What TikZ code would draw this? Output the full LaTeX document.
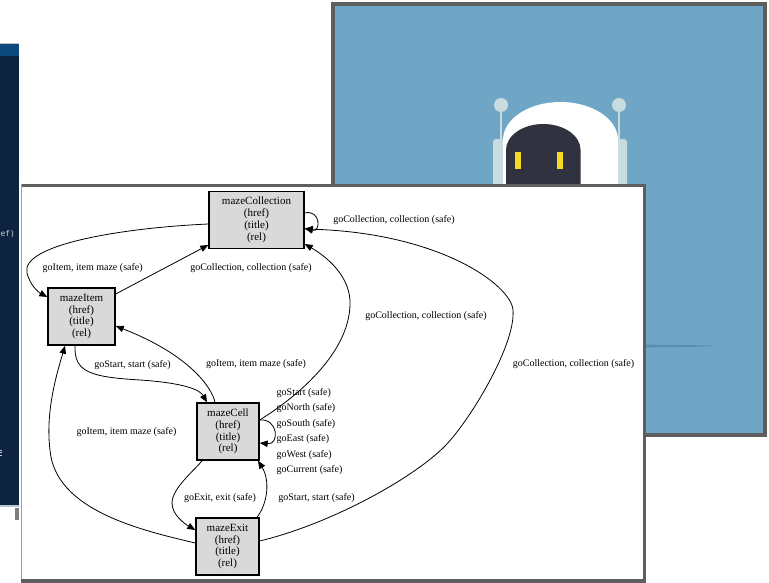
\documentclass[tikz,border=0pt]{standalone}
\usepackage{fontspec}
\setmainfont{Liberation Serif}
\newfontfamily\codefont{DejaVu Sans Mono}
\usetikzlibrary{arrows.meta}

\definecolor{editorbg}{HTML}{0E2340}
\definecolor{editorbar}{HTML}{0C4A7E}
\definecolor{editorrule}{HTML}{B9C5CF}
\definecolor{codetext}{HTML}{C9D1D9}
\definecolor{skyblue}{HTML}{6FA6C6}
\definecolor{frame}{HTML}{5E5E5E}
\definecolor{robotpale}{HTML}{C8DCE0}
\definecolor{robotface}{HTML}{30333F}
\definecolor{roboteye}{HTML}{F4D923}
\definecolor{groundshade}{HTML}{5C8FAF}
\definecolor{statefill}{HTML}{D9D9D9}

\begin{document}
\begin{tikzpicture}[x=1pt,y=1pt,
  state/.style={draw=black, line width=1.4pt, fill=statefill,
    minimum width=#1, minimum height=57pt, inner sep=0pt, align=center,
    font=\fontsize{11}{11.8}\selectfont},
  link/.style={draw=black, line width=0.8pt,
    -{Triangle[length=8pt,width=6.5pt]}},
  lbl/.style={inner sep=0pt, font=\fontsize{10}{12}\selectfont},
]
\useasboundingbox (0,0) rectangle (769,-583);

% code editor window at the left edge
\fill[editorrule] (0,-43) rectangle (19,-44.5);
\fill[editorbar] (0,-44.5) rectangle (19,-56.5);
\fill[editorbg] (0,-56.5) rectangle (19,-505);
\fill[editorrule] (0,-505) rectangle (19,-507);
\fill[frame!80] (15,-508) rectangle (19,-520);
\node[inner sep=0pt, anchor=base west, text=codetext,
      font=\codefont\fontsize{8}{10}\selectfont] (codeA) at (0.4,-236.5) {ef)};
% sliver of a glyph cut by the window edge
\fill[codetext] (0,-449.5) rectangle (1.8,-450.6);
\fill[codetext] (0,-452.2) rectangle (1.8,-453.3);
\fill[codetext] (0,-454.6) rectangle (1.6,-455.5);

% blue card with the robot
\draw[frame, line width=4pt, fill=skyblue] (332.5,-4.5) rectangle (764.5,-435.3);
\fill[groundshade] (560,-346) ellipse [x radius=155, y radius=1.6];
\fill[robotpale, rounded corners=3pt] (493,-139) rectangle (518,-200);
\fill[robotpale, rounded corners=3pt] (602,-139) rectangle (627,-200);
\fill[robotpale] (499.8,-105) rectangle (502.2,-141);
\fill[robotpale] (617.8,-105) rectangle (620.2,-141);
\fill[robotpale] (501,-105) circle [radius=7];
\fill[robotpale] (619,-105) circle [radius=7];
\fill[white] (503,-200) -- (503,-140)
  arc[start angle=180, end angle=0, x radius=57.5, y radius=38] -- (618,-200) -- cycle;
\fill[robotface] (506,-200) -- (506,-150)
  arc[start angle=180, end angle=0, x radius=37.3, y radius=26] -- (580.6,-200) -- cycle;
\fill[roboteye] (515,-152) rectangle (521,-169);
\fill[roboteye] (557,-152) rectangle (563,-169);

% white card holding the state graph
\fill[white] (21,-184) rectangle (646,-583);
\draw[frame!60, line width=0.6pt] (21.3,-184) -- (21.3,-583);
\draw[frame, line width=3.3pt] (22,-185.7) -- (644.6,-185.7) -- (644.6,-581) -- (21,-581);

% states
\node[state=95pt] (mc) at (256.5,-220) {mazeCollection\\(href)\\(title)\\(rel)};
\node[state=67pt] (mi) at (81.5,-316.5) {mazeItem\\(href)\\(title)\\(rel)};
\node[state=62pt] (cell) at (228,-431.5) {mazeCell\\(href)\\(title)\\(rel)};
\node[state=63pt] (exit) at (227.5,-546.5) {mazeExit\\(href)\\(title)\\(rel)};

% transitions
\draw[link] (mc.east |- 0,-213) .. controls (321,-209) and (321,-233) .. (mc.east |- 0,-228);
\node[lbl] (lcc) at (394,-220) {goCollection, collection (safe)};

\draw[link] (mc.west |- 0,-224) .. controls (120,-228) and (20,-245) .. (27,-273)
  .. controls (30,-285) and (38,-292) .. (mi.west |- 0,-297);
\node[lbl] (lci) at (92.7,-268) {goItem, item maze (safe)};

\draw[link] (mi.east |- 0,-294) -- (mc.west |- 0,-245);
\node[lbl] (lic) at (251,-268) {goCollection, collection (safe)};

\draw[link] (cell.east |- 0,-420) .. controls (300,-395) and (352,-350) .. (350,-300)
  .. controls (348,-272) and (322,-254) .. (mc.east |- 0,-244);
\node[lbl] (lcellc) at (426,-316) {goCollection, collection (safe)};

\draw[link] (exit.east |- 0,-541) .. controls (330,-524) and (410,-480) .. (443,-448)
  .. controls (468,-424) and (516,-345) .. (513,-310)
  .. controls (511,-285) and (440,-233) .. (mc.east |- 0,-229);
\node[lbl] (lexitc) at (573.5,-364) {goCollection, collection (safe)};

\draw[link] (mi.south -| 75,0) .. controls (74,-372) and (90,-377) .. (140,-380)
  .. controls (185,-383) and (200,-390) .. (cell.north -| 207,0);
\node[lbl] (lis) at (132.5,-365) {goStart, start (safe)};

\draw[link] (cell.north -| 215,0) .. controls (212,-388) and (190,-355) .. (mi.east |- 0,-326);
\node[lbl] (lcelli) at (256,-364) {goItem, item maze (safe)};

\draw[link] (exit.west |- 0,-543) .. controls (140,-530) and (55,-510) .. (50,-450)
  .. controls (45,-410) and (58,-370) .. (mi.south -| 65,0);
\node[lbl] (lexiti) at (126.5,-432) {goItem, item maze (safe)};

\draw[link] (cell.east |- 0,-420) .. controls (278,-418) and (280,-445) .. (cell.east |- 0,-443);
\node[lbl, anchor=west, align=left, font=\fontsize{10}{15.5}\selectfont] (lloop) at (276.5,-431.5)
  {goStart (safe)\\goNorth (safe)\\goSouth (safe)\\goEast (safe)\\goWest (safe)\\goCurrent (safe)};

\draw[link] (cell.south -| 202,0) .. controls (195,-470) and (172,-488) .. (172,-503)
  .. controls (172,-515) and (185,-524) .. (exit.west |- 0,-530);
\node[lbl] (lce) at (220,-498) {goExit, exit (safe)};

\draw[link] (exit.north -| 257,0) .. controls (268,-503) and (270,-480) .. (cell.south -| 258,0);
\node[lbl] (les) at (316.5,-498) {goStart, start (safe)};
\end{tikzpicture}
\end{document}
